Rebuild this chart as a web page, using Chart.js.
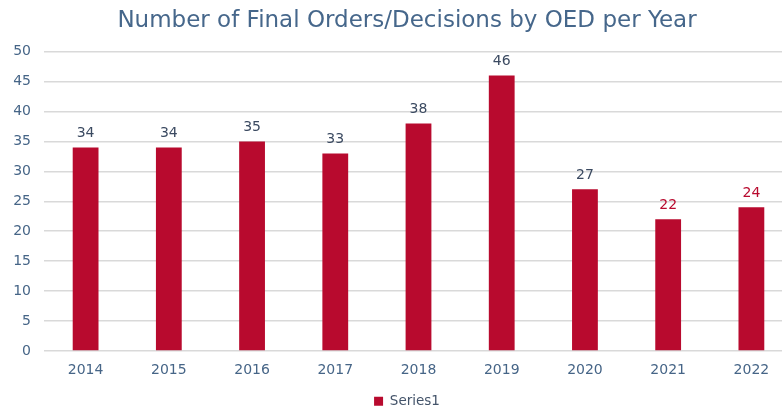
<!DOCTYPE html>
<html>
<head>
<meta charset="utf-8">
<script src="https://cdn.jsdelivr.net/npm/chart.js@4.4.0/dist/chart.umd.min.js"></script>
<style>
  html, body { margin: 0; padding: 0; background: #fff; overflow: hidden; }
  #wrap { width: 800px; height: 411px; }
</style>
</head>
<body>
<div id="wrap"><canvas id="oedChart"></canvas></div>
<script>
const years = ['2014', '2015', '2016', '2017', '2018', '2019', '2020', '2021', '2022'];
const decisions = [34, 34, 35, 33, 38, 46, 27, 22, 24];
const label_colors = ['#3b4a61', '#3b4a61', '#3b4a61', '#3b4a61', '#3b4a61', '#3b4a61', '#3b4a61', '#b80a2e', '#b80a2e'];

const FONT = "'DejaVu Sans', Verdana, sans-serif";

// draws the value above each bar
const barValues = {
    id: 'barValues',
    afterDatasetsDraw(chart) {
        const ctx = chart.ctx;
        const meta = chart.getDatasetMeta(0);
        ctx.save();
        ctx.font = '14px ' + FONT;
        ctx.textAlign = 'center';
        ctx.textBaseline = 'middle';
        meta.data.forEach((bar, i) => {
            ctx.fillStyle = label_colors[i];
            ctx.fillText(decisions[i], bar.x, bar.y - 14);
        });
        ctx.restore();
    }
};

// original chart was cropped on the right, so centre title + legend a bit to the right
const shiftBlocks = {
    id: 'shiftBlocks',
    afterLayout(chart) {
        chart.titleBlock.left += 21;
        chart.legend.left += 21;
    }
};

const ctx_1 = document.getElementById('oedChart').getContext('2d');
const oedChart = new Chart(ctx_1, {
    type: 'bar',
    data: {
        labels: years,
        datasets: [{
            label: 'Series1',
            data: decisions,
            backgroundColor: '#b80a2e',
            barPercentage: 0.31,
            categoryPercentage: 1
        }]
    },
    options: {
        responsive: true,
        maintainAspectRatio: false,
        animation: false,
        layout: { padding: { left: 0, right: 7, top: 4, bottom: -7 } },
        plugins: {
            title: {
                display: true,
                text: 'Number of Final Orders/Decisions by OED per Year',
                color: '#46678b',
                font: { family: FONT, size: 23, weight: 'normal' },
                padding: { top: 3, bottom: 17 }
            },
            legend: {
                position: 'bottom',
                labels: {
                    color: '#44546a',
                    font: { family: FONT, size: 13.5 },
                    boxWidth: 9,
                    boxHeight: 9,
                    padding: 0.5
                }
            },
            tooltip: { enabled: false }
        },
        scales: {
            x: {
                afterFit(scale) { scale.height = 43; },
                grid: { display: false },
                border: { display: false },
                ticks: { color: '#466587', font: { family: FONT, size: 14 }, padding: 3 }
            },
            y: {
                min: 0,
                max: 50,
                afterFit(scale) { scale.width = 44; },
                grid: { color: '#d9d9d9', lineWidth: 1.5, drawTicks: false },
                border: { display: false },
                ticks: { stepSize: 5, color: '#466587', font: { family: FONT, size: 14 }, padding: 13 }
            }
        }
    },
    plugins: [barValues, shiftBlocks]
});
</script>
</body>
</html>
